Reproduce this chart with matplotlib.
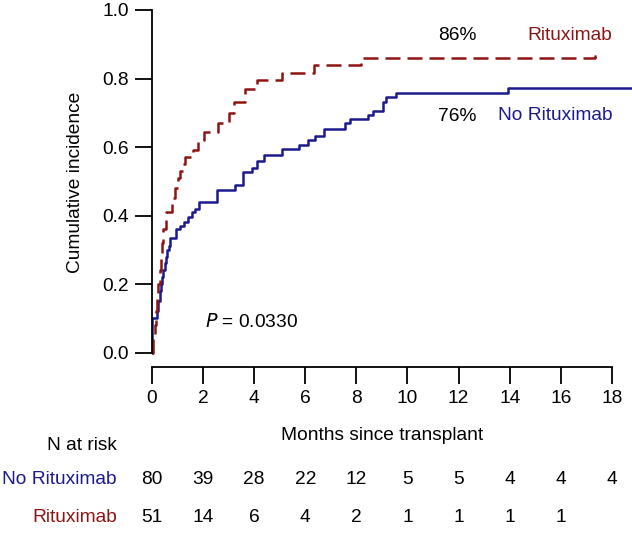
import matplotlib
matplotlib.use("Agg")
import matplotlib.pyplot as plt
from matplotlib.transforms import blended_transform_factory

plt.rcParams['font.family'] = ['Liberation Sans', 'DejaVu Sans']
plt.rcParams['font.size'] = 13.8

BLUE = '#1a1a8e'
RED = '#8e1414'

# step curves (time in months, cumulative incidence after step)
t_norit = [0, 0.18, 0.25, 0.3, 0.35, 0.4, 0.45, 0.5, 0.55, 0.6, 0.65, 0.7, 0.95, 1.1,
           1.25, 1.4, 1.55, 1.7, 1.85, 2.55, 3.25, 3.55, 3.9, 4.1, 4.4, 5.1, 5.75, 6.1,
           6.4, 6.75, 7.55, 7.75, 8.45, 8.65, 9.05, 9.15, 9.55, 13.95, 18.8]
y_norit = [0.10, 0.12, 0.15, 0.18, 0.20, 0.22, 0.24, 0.26, 0.28, 0.30, 0.31, 0.335, 0.36, 0.37,
           0.38, 0.395, 0.41, 0.42, 0.438, 0.474, 0.489, 0.527, 0.54, 0.56, 0.577, 0.593, 0.606, 0.62,
           0.632, 0.652, 0.669, 0.681, 0.693, 0.706, 0.732, 0.747, 0.759, 0.771, 0.771]

t_rit = [0, 0.05, 0.1, 0.15, 0.2, 0.25, 0.3, 0.35, 0.4, 0.45, 0.55, 0.8, 0.9, 1.0, 1.1,
         1.2, 1.3, 1.6, 1.8, 2.05, 2.6, 3.0, 3.2, 3.65, 4.1, 5.1, 6.35, 8.2, 17.35, 17.4]
y_rit = [0.0, 0.04, 0.08, 0.12, 0.16, 0.20, 0.24, 0.28, 0.32, 0.36, 0.41, 0.45, 0.48, 0.51, 0.53,
         0.55, 0.57, 0.59, 0.62, 0.645, 0.67, 0.70, 0.73, 0.77, 0.796, 0.816, 0.84, 0.859, 0.866, 0.866]

risk_times = [0, 2, 4, 6, 8, 10, 12, 14, 16, 18]
risk_norit = [80, 39, 28, 22, 12, 5, 5, 4, 4, 4]
risk_rit = [51, 14, 6, 4, 2, 1, 1, 1, 1]

fig = plt.figure(figsize=(6.32, 5.33), dpi=100)
ax = fig.add_axes([152/632, 1 - 367/533, 480/632, 357/533])

ax.step(t_norit, y_norit, where='post', color=BLUE, lw=1.8)
ax.plot([0, 0], [0, y_norit[0]], color=BLUE, lw=1.8)
ax.step(t_rit, y_rit, where='post', color=RED, lw=1.8, linestyle=(0, (6, 2.8)))

ax.set_xlim(0, 18.79)
ax.set_ylim(-0.0423, 1.0)
for s in ['top', 'right']:
    ax.spines[s].set_visible(False)
ax.spines['left'].set_bounds(0, 1)
ax.spines['bottom'].set_bounds(0, 18)
ax.spines['left'].set_linewidth(1.3)
ax.spines['bottom'].set_linewidth(1.3)
ax.set_xticks(risk_times)
ax.set_yticks([0, 0.2, 0.4, 0.6, 0.8, 1.0])
ax.set_yticklabels(['0.0', '0.2', '0.4', '0.6', '0.8', '1.0'])
ax.tick_params(length=12.5, width=1.3, labelsize=13.8)
ax.tick_params(axis='y', pad=4)
ax.tick_params(axis='x', pad=4)
for sp in ax.spines.values():
    sp.set_clip_on(False)

ax.text(11.94, 0.927, '86%', ha='center', va='center')
ax.text(16.36, 0.927, 'Rituximab', ha='center', va='center', color=RED)
ax.text(11.94, 0.688, '76%', ha='center', va='center')
ax.text(15.77, 0.693, 'No Rituximab', ha='center', va='center', color=BLUE)
ax.text(2.07, 0.089, r'$\it{P}$ = 0.0330', ha='left', va='center')

fig.text(75/632, 1 - 182/533, 'Cumulative incidence', rotation=90, ha='center', va='center')

tr = blended_transform_factory(ax.transData, fig.transFigure)
ax.text(9, 1 - 435/533, 'Months since transplant', transform=tr, ha='center', va='center')
fig.text(117/632, 1 - 445/533, 'N at risk', ha='right', va='center')
fig.text(117/632, 1 - 480/533, 'No Rituximab', ha='right', va='center', color=BLUE)
fig.text(117/632, 1 - 517/533, 'Rituximab', ha='right', va='center', color=RED)
for t, n in zip(risk_times, risk_norit):
    ax.text(t, 1 - 480/533, str(n), transform=tr, ha='center', va='center')
for t, n in zip(risk_times, risk_rit):
    ax.text(t, 1 - 517/533, str(n), transform=tr, ha='center', va='center')

fig.savefig('out.png', dpi=100)
